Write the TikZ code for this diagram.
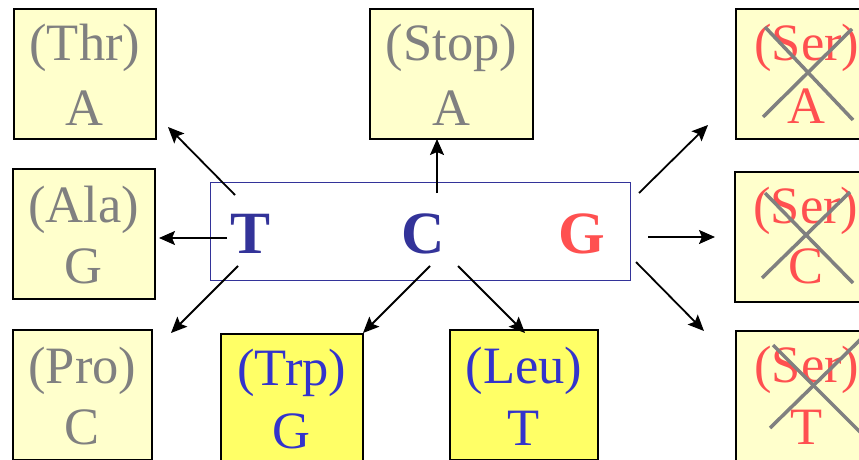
\documentclass[tikz,border=0pt]{standalone}
\usepackage{fontspec}
\setmainfont{Liberation Serif}
\usetikzlibrary{arrows.meta,calc}
\definecolor{lightbox}{HTML}{FFFFCC}
\definecolor{brightbox}{HTML}{FFFF66}
\definecolor{graytxt}{HTML}{808080}
\definecolor{redtxt}{HTML}{FF5050}
\definecolor{bluetxt}{HTML}{3333CC}
\definecolor{darkblue}{HTML}{333399}
\tikzset{
  codon/.style={draw=black, line width=1.8pt, minimum width=142pt, minimum height=130pt, inner sep=0pt, anchor=north west},
  pale/.style={codon, fill=lightbox},
  bright/.style={codon, fill=brightbox},
  lbl/.style={anchor=base, inner sep=0pt, font=\fontsize{52.5}{60}\selectfont},
  base/.style={anchor=base, inner sep=0pt, font=\fontsize{60}{70}\selectfont\bfseries},
  arr/.style={line width=1.8pt, -{Stealth[length=16pt,width=14pt,inset=3pt]}},
  cross/.style={draw=graytxt, line width=3.5pt},
}
\begin{document}
\begin{tikzpicture}[x=1pt,y=-1pt]
\useasboundingbox (0,0) rectangle (859,460);
% boxes
\node[pale] (thr) at (13,8) {};
\node[pale, minimum width=163pt] (stop) at (369,8) {};
\node[pale] (sera) at (735,8) {};
\node[pale] (ala) at (12,168) {};
\node[pale] (serc) at (734,171) {};
\node[pale, minimum width=139pt] (pro) at (12,329) {};
\node[bright] (trp) at (220,333) {};
\node[bright, minimum width=148pt] (leu) at (449,329) {};
\node[pale] (sert) at (735,330) {};
% labels
\node[lbl, text=graytxt] (thr1) at ($(thr.north)+(0,53)$) {(Thr)};
\node[lbl, text=graytxt] (thr2) at ($(thr.north)+(0,117)$) {A};
\node[lbl, text=graytxt] (stop1) at ($(stop.north)+(0,53)$) {(Stop)};
\node[lbl, text=graytxt] (stop2) at ($(stop.north)+(0,117)$) {A};
\node[lbl, text=graytxt] (ala1) at ($(ala.north)+(0,54)$) {(Ala)};
\node[lbl, text=graytxt] (ala2) at ($(ala.north)+(0,115)$) {G};
\node[lbl, text=graytxt] (pro1) at ($(pro.north)+(0,54)$) {(Pro)};
\node[lbl, text=graytxt] (pro2) at ($(pro.north)+(0,115)$) {C};
\node[lbl, text=bluetxt] (trp1) at ($(trp.north)+(0,52)$) {(Trp)};
\node[lbl, text=bluetxt] (trp2) at ($(trp.north)+(0,115)$) {G};
\node[lbl, text=bluetxt] (leu1) at ($(leu.north)+(0,54)$) {(Leu)};
\node[lbl, text=bluetxt] (leu2) at ($(leu.north)+(0,116)$) {T};
\node[lbl, text=redtxt] (sera1) at ($(sera.north)+(0,52)$) {(Ser)};
\node[lbl, text=redtxt] (sera2) at ($(sera.north)+(0,115)$) {A};
\node[lbl, text=redtxt] (serc1) at ($(serc.north)+(0,52)$) {(Ser)};
\node[lbl, text=redtxt] (serc2) at ($(serc.north)+(0,112)$) {C};
\node[lbl, text=redtxt] (sert1) at ($(sert.north)+(0,52)$) {(Ser)};
\node[lbl, text=redtxt] (sert2) at ($(sert.north)+(0,114)$) {T};
% crosses
\draw[cross] (763,117) -- (852,29);
\draw[cross] (765,27) -- (853,120);
\draw[cross] (762,278) -- (850,192);
\draw[cross] (765,193) -- (853,283);
\draw[cross] (770,428) -- (864,336);
\draw[cross] (773,345) -- (864,436);
% central codon
\node[draw=darkblue, line width=1.3pt, minimum width=420pt, minimum height=98pt, inner sep=0pt, anchor=north west] (codon) at (210,182) {};
\node[base, text=darkblue] (T) at (251,253) {T};
\node[base, text=darkblue] (C) at (423,253) {C};
\node[base, text=redtxt] (G) at (582,253) {G};
% arrow endpoints
\coordinate (t1) at (235,195); \coordinate (e1) at (168,127);
\coordinate (t2) at (227,238); \coordinate (e2) at (159,238);
\coordinate (t3) at (238,266); \coordinate (e3) at (171,333);
\coordinate (c1) at (437,193); \coordinate (e4) at (437,139);
\coordinate (c2) at (430,266); \coordinate (e5) at (363,333);
\coordinate (c3) at (458,266); \coordinate (e6) at (525,333);
\coordinate (g1) at (639,193); \coordinate (e7) at (708,125);
\coordinate (g2) at (648,237); \coordinate (e8) at (715,237);
\coordinate (g3) at (636,262); \coordinate (e9) at (704,331);
\draw[arr] (t1) -- (e1);
\draw[arr] (t2) -- (e2);
\draw[arr] (t3) -- (e3);
\draw[arr] (c1) -- (e4);
\draw[arr] (c2) -- (e5);
\draw[arr] (c3) -- (e6);
\draw[arr] (g1) -- (e7);
\draw[arr] (g2) -- (e8);
\draw[arr] (g3) -- (e9);
\end{tikzpicture}
\end{document}
